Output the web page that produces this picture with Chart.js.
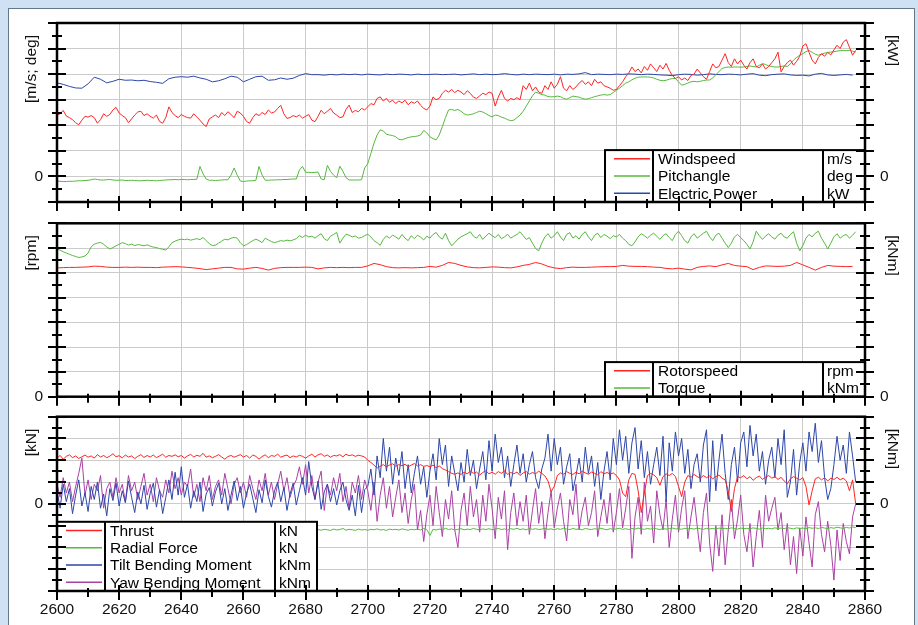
<!DOCTYPE html>
<html>
<head>
<meta charset="utf-8">
<script src="https://cdn.jsdelivr.net/npm/chart.js@4.4.1/dist/chart.umd.min.js"></script>
<style>
  html, body { margin: 0; padding: 0; background: #cfe2f3; overflow: hidden; width: 918px; height: 625px; }
  #sheet { position: absolute; left: 8px; top: 8px; width: 905px; height: 640px; background: #fff; border: 1px solid #66778a; }
  canvas { position: absolute; left: 0; }
</style>
</head>
<body>
<div id="sheet"></div>
<canvas id="c1" width="918" height="215" style="top:0px"></canvas>
<canvas id="c2" width="918" height="195" style="top:215px"></canvas>
<canvas id="c3" width="918" height="215" style="top:410px"></canvas>
<script>
// samples start at t = 2600 s; fast channels every 1 s, slow ones every 2 s
const tStart = 2600;

// --- panel 1: m/s; deg | kW ---
const windspeed = [
  2.40, 2.45, 2.58, 2.36, 2.30, 2.22, 2.10, 2.02, 2.20, 2.35,
  2.32, 2.38, 2.30, 2.08, 2.22, 2.45, 2.35, 2.42, 2.60, 2.70,
  2.48, 2.38, 2.30, 2.10, 2.25, 2.40, 2.52, 2.55, 2.38, 2.45,
  2.35, 2.28, 2.40, 2.15, 2.08, 2.30, 2.72, 2.50, 2.38, 2.30,
  2.42, 2.35, 2.30, 2.28, 2.45, 2.32, 2.20, 2.05, 1.95, 2.25,
  2.33, 2.40, 2.30, 2.50, 2.38, 2.53, 2.42, 2.30, 2.55, 2.48,
  2.35, 2.15, 2.08, 2.30, 2.45, 2.38, 2.50, 2.42, 2.60, 2.48,
  2.52, 2.66, 2.78, 2.45, 2.27, 2.30, 2.38, 2.33, 2.40, 2.28,
  2.35, 2.42, 2.20, 2.14, 2.35, 2.59, 2.45, 2.55, 2.66, 2.48,
  2.40, 2.30, 2.33, 2.62, 2.79, 2.50, 2.58, 2.53, 2.66, 2.60,
  2.72, 2.85, 2.80, 3.05, 3.11, 2.95, 3.05, 2.90, 2.98, 2.85,
  2.95, 2.88, 2.98, 2.80, 2.92, 2.86, 2.95, 2.78, 2.66, 2.60,
  2.75, 3.11, 3.00, 3.05, 3.25, 3.37, 3.30, 3.40, 3.28, 3.37,
  3.30, 3.20, 3.35, 3.25, 3.10, 3.05, 3.15, 3.25, 3.20, 3.30,
  3.25, 2.75, 3.10, 3.37, 3.05, 2.95, 3.05, 3.00, 3.08, 3.00,
  3.55, 3.40, 3.65, 3.35, 3.50, 3.30, 3.25, 3.55, 3.40, 3.70,
  3.45, 3.60, 3.90, 3.45, 3.35, 3.55, 3.40, 3.50, 3.65, 3.75,
  3.60, 3.70, 3.55, 3.80, 3.65, 3.70, 3.55, 3.50, 3.45, 3.37,
  3.40, 3.55, 3.70, 3.90, 4.05, 4.28, 4.10, 4.20, 4.05, 4.30,
  4.15, 4.40, 4.25, 4.10, 4.35, 4.20, 4.42, 4.15, 3.95, 3.83,
  3.90, 3.77, 3.85, 3.75, 3.95, 4.00, 4.20, 4.05, 3.90, 3.80,
  4.10, 4.40, 4.25, 4.30, 4.55, 4.80, 4.45, 4.30, 4.60, 4.40,
  4.55, 4.35, 4.20, 4.45, 4.60, 4.30, 4.25, 4.40, 4.20, 4.30,
  4.45, 4.60, 4.86, 4.09, 4.30, 4.45, 4.55, 4.35, 4.50, 4.70,
  5.10, 5.19, 4.85, 4.55, 4.40, 4.65, 4.80, 4.70, 4.85, 4.75,
  4.95, 5.13, 5.00, 5.25, 5.35, 5.05, 4.74, 4.93
];
const pitchangle = [
  -0.18, -0.19, -0.20, -0.20, -0.19, -0.19, -0.18, -0.17, -0.17, -0.16,
  -0.15, -0.13, -0.10, -0.12, -0.14, -0.14, -0.13, -0.12, -0.14, -0.15,
  -0.15, -0.14, -0.16, -0.16, -0.15, -0.16, -0.17, -0.17, -0.16, -0.15,
  -0.16, -0.16, -0.17, -0.16, -0.15, -0.14, -0.13, -0.13, -0.12, -0.13,
  -0.12, -0.12, -0.13, -0.12, -0.12, -0.11, 0.39, 0.10, -0.10, -0.15,
  -0.15, -0.16, -0.15, -0.14, -0.13, -0.13, 0.05, 0.33, 0.05, -0.18,
  -0.20, -0.18, -0.17, -0.17, -0.15, 0.39, 0.05, -0.15, -0.15, -0.14,
  -0.14, -0.13, -0.13, -0.12, -0.12, -0.11, -0.10, -0.10, 0.25, 0.39,
  0.16, 0.16, 0.15, 0.16, 0.17, -0.10, -0.13, 0.43, 0.20, 0.05,
  -0.05, 0.40, 0.20, -0.05, -0.14, -0.14, -0.14, -0.14, -0.13, 0.33,
  0.50, 0.90, 1.30, 1.62, 1.82, 1.78, 1.65, 1.62, 1.60, 1.55,
  1.45, 1.43, 1.48, 1.52, 1.55, 1.56, 1.58, 1.62, 1.80, 1.70,
  1.55, 1.48, 1.43, 1.62, 1.95, 2.30, 2.60, 2.62, 2.58, 2.62,
  2.55, 2.45, 2.40, 2.42, 2.45, 2.50, 2.55, 2.52, 2.45, 2.38,
  2.33, 2.40, 2.38, 2.32, 2.28, 2.22, 2.18, 2.20, 2.30, 2.40,
  2.55, 2.75, 2.95, 3.15, 3.30, 3.25, 3.20, 3.18, 3.12, 3.11,
  3.12, 3.14, 3.12, 3.05, 3.02, 3.08, 3.14, 3.12, 3.10, 3.05,
  3.02, 3.04, 3.08, 3.12, 3.15, 3.18, 3.20, 3.18, 3.20, 3.28,
  3.37, 3.45, 3.55, 3.65, 3.70, 3.78, 3.84, 3.88, 3.89, 3.89,
  3.89, 3.88, 3.85, 3.80, 3.76, 3.74, 3.76, 3.80, 3.83, 3.83,
  3.70, 3.57, 3.60, 3.65, 3.70, 3.72, 3.70, 3.72, 3.75, 3.77,
  3.77, 3.85, 3.98, 4.10, 4.22, 4.26, 4.28, 4.27, 4.28, 4.28,
  4.27, 4.28, 4.30, 4.32, 4.30, 4.28, 4.35, 4.41, 4.38, 4.32,
  4.30, 4.28, 4.28, 4.30, 4.32, 4.30, 4.40, 4.55, 4.65, 4.74,
  4.80, 4.88, 4.93, 4.85, 4.78, 4.74, 4.78, 4.82, 4.85, 4.86,
  4.88, 4.90, 4.92, 4.93, 4.92, 4.93, 4.90, 4.86
];
// 2 s samples
const electricPower = [
  3.66, 3.60, 3.52, 3.46, 3.45, 3.62, 3.88, 3.80, 3.66, 3.72,
  3.80, 3.76, 3.77, 3.74, 3.76, 3.71, 3.68, 3.64, 3.82, 3.88,
  3.90, 3.88, 3.92, 3.85, 3.80, 3.70, 3.74, 3.82, 3.92, 3.88,
  3.70, 3.80, 3.90, 3.92, 3.76, 3.78, 3.85, 3.80, 3.84, 3.95,
  4.02, 3.98, 3.98, 3.96, 3.99, 3.97, 4.00, 3.98, 4.00, 3.97,
  4.00, 3.98, 3.97, 4.00, 3.98, 4.00, 3.99, 3.97, 4.00, 3.98,
  3.99, 4.00, 3.98, 3.99, 4.00, 3.97, 3.99, 4.01, 3.98, 4.00,
  3.98, 3.99, 4.02, 3.99, 3.97, 4.00, 3.98, 4.00, 3.99, 3.98,
  4.00, 3.97, 4.00, 3.99, 4.01, 4.06, 3.98, 4.00, 3.99, 3.98,
  4.00, 3.99, 4.01, 4.00, 3.98, 4.00, 3.99, 3.97, 3.96, 3.94,
  3.98, 4.00, 3.99, 3.96, 3.98, 4.01, 3.99, 3.98, 4.00, 3.99,
  3.97, 4.00, 4.02, 3.96, 3.94, 3.98, 4.00, 4.01, 3.97, 3.95,
  3.96, 3.93, 4.00, 4.03, 3.97, 3.95, 3.97, 3.99, 3.96
];

// --- panel 2: rpm | kNm ---
// 2 s samples
const rotorspeed = [
  5.20, 5.21, 5.22, 5.22, 5.23, 5.24, 5.27, 5.26, 5.23, 5.22,
  5.22, 5.23, 5.22, 5.23, 5.22, 5.22, 5.21, 5.23, 5.24, 5.25,
  5.24, 5.22, 5.20, 5.17, 5.13, 5.16, 5.19, 5.22, 5.22, 5.16,
  5.15, 5.19, 5.22, 5.18, 5.11, 5.18, 5.21, 5.22, 5.22, 5.22,
  5.23, 5.22, 5.16, 5.20, 5.22, 5.21, 5.22, 5.21, 5.22, 5.22,
  5.28, 5.38, 5.33, 5.25, 5.21, 5.20, 5.21, 5.20, 5.21, 5.22,
  5.26, 5.23, 5.30, 5.42, 5.38, 5.30, 5.24, 5.21, 5.20, 5.22,
  5.24, 5.23, 5.21, 5.20, 5.24, 5.30, 5.34, 5.42, 5.36, 5.26,
  5.20, 5.17, 5.21, 5.23, 5.22, 5.22, 5.23, 5.24, 5.25, 5.25,
  5.26, 5.30, 5.27, 5.26, 5.26, 5.25, 5.23, 5.22, 5.18, 5.16,
  5.19, 5.15, 5.12, 5.22, 5.26, 5.28, 5.25, 5.32, 5.38, 5.30,
  5.27, 5.25, 5.13, 5.22, 5.28, 5.27, 5.26, 5.27, 5.30, 5.42,
  5.32, 5.22, 5.11, 5.22, 5.30, 5.27, 5.26, 5.25, 5.26
];
const torque = [
  5.96, 5.92, 5.85, 5.80, 5.75, 5.70, 5.66, 5.62, 5.64, 5.68,
  5.80, 6.05, 6.16, 6.20, 6.23, 6.15, 6.05, 5.96, 6.02, 6.09,
  6.15, 6.22, 6.18, 6.12, 6.16, 6.10, 6.14, 6.12, 6.09, 6.13,
  6.08, 6.04, 6.02, 5.98, 5.95, 5.92, 6.05, 6.22, 6.28, 6.33,
  6.36, 6.34, 6.36, 6.32, 6.35, 6.38, 6.34, 6.43, 6.30, 6.18,
  6.10, 6.12, 6.20, 6.28, 6.36, 6.33, 6.40, 6.43, 6.40, 6.22,
  6.09, 6.14, 6.22, 6.30, 6.36, 6.30, 6.22, 6.40, 6.33, 6.26,
  6.22, 6.26, 6.30, 6.28, 6.32, 6.29, 6.33, 6.38, 6.50, 6.43,
  6.52, 6.45, 6.48, 6.40, 6.50, 6.58, 6.38, 6.30, 6.48, 6.55,
  6.63, 6.20, 6.40, 6.56, 6.52, 6.45, 6.49, 6.40, 6.43, 6.50,
  6.56, 6.45, 6.30, 6.22, 6.11, 6.35, 6.49, 6.40, 6.52, 6.45,
  6.36, 6.55, 6.40, 6.30, 6.50, 6.38, 6.52, 6.44, 6.33, 6.48,
  6.40, 6.55, 6.63, 6.45, 6.36, 6.60, 6.30, 6.09, 6.22, 6.36,
  6.45, 6.52, 6.58, 6.66, 6.48, 6.40, 6.55, 6.35, 6.48, 6.60,
  6.50, 6.42, 6.55, 6.38, 6.45, 6.56, 6.40, 6.48, 6.55, 6.66,
  6.50, 6.35, 6.42, 6.20, 5.98, 5.89, 6.20, 6.45, 6.58, 6.40,
  6.50, 6.66, 6.45, 6.30, 6.55, 6.62, 6.40, 6.50, 6.36, 6.55,
  6.66, 6.45, 6.30, 6.52, 6.60, 6.42, 6.55, 6.48, 6.38, 6.50,
  6.45, 6.55, 6.40, 6.30, 6.15, 6.09, 6.25, 6.45, 6.58, 6.50,
  6.40, 6.52, 6.60, 6.48, 6.35, 6.50, 6.58, 6.42, 6.30, 6.55,
  6.68, 6.50, 6.30, 6.20, 6.45, 6.58, 6.40, 6.50, 6.60, 6.68,
  6.45, 6.30, 6.52, 6.60, 6.40, 6.20, 6.02, 6.20, 6.45, 6.55,
  6.42, 6.30, 6.15, 5.96, 6.25, 6.68, 6.50, 6.35, 6.48, 6.58,
  6.45, 6.36, 6.52, 6.60, 6.45, 6.40, 6.55, 6.66, 6.20, 5.89,
  6.10, 6.40, 6.55, 6.45, 6.60, 6.68, 6.40, 6.20, 5.96, 6.20,
  6.45, 6.58, 6.40, 6.50, 6.55, 6.40, 6.52, 6.66
];

// --- panel 3: kN | kNm ---
const thrust = [
  2.10, 2.22, 2.05, 2.18, 2.25, 2.12, 2.20, 2.08, 2.16, 2.24,
  2.14, 2.20, 2.10, 2.26, 2.15, 2.22, 2.12, 2.19, 2.30, 2.16,
  2.21, 2.11, 2.24, 2.15, 2.20, 2.08, 2.18, 2.26, 2.13, 2.22,
  2.15, 2.24, 2.12, 2.20, 2.28, 2.14, 2.22, 2.18, 2.25, 2.16,
  2.22, 2.10, 2.20, 2.27, 2.15, 2.23, 2.18, 2.32, 2.14, 2.20,
  2.12, 2.18, 2.26, 2.15, 2.05, 2.17, 2.22, 2.14, 2.20, 2.26,
  2.15, 2.22, 2.10, 2.24, 2.18, 2.05, 2.17, 2.25, 2.12, 2.22,
  2.18, 2.28, 2.14, 2.20, 2.24, 2.12, 2.20, 2.15, 2.23, 2.18,
  2.10, 2.20, 2.28, 2.15, 2.25, 2.30, 2.18, 2.24, 2.14, 2.22,
  2.20, 2.26, 2.16, 2.28, 2.21, 2.25, 2.18, 2.23, 2.20, 2.15,
  2.00, 1.90, 1.78, 1.64, 1.72, 1.80, 1.70, 1.78, 1.84, 1.72,
  1.80, 1.75, 1.82, 1.70, 1.78, 1.85, 1.74, 1.80, 1.72, 1.76,
  1.70, 1.78, 1.66, 1.74, 1.62, 1.55, 1.48, 1.40, 1.36, 1.42,
  1.35, 1.45, 1.38, 1.50, 1.40, 1.46, 1.32, 1.44, 1.52, 1.38,
  1.45, 1.36, 1.48, 1.40, 1.52, 1.35, 1.44, 1.38, 1.46, 1.30,
  1.42, 1.48, 1.36, 1.44, 1.38, 1.50, 1.40, 1.28, 1.05, 0.56,
  0.80, 1.30, 1.42, 1.36, 1.48, 1.40, 1.35, 1.45, 1.38, 1.50,
  1.42, 1.36, 1.46, 1.40, 1.33, 1.48, 1.38, 1.44, 1.36, 1.42,
  1.30, 1.10, 0.50, 0.33, 1.10, 1.40, 1.35, 0.60, -0.40, 0.50,
  1.30, 1.40, 1.33, 1.20, 0.85, 1.25, 1.38, 1.30, 1.40, 1.25,
  0.80, 0.33, 1.00, 1.30, 1.22, 1.35, 1.25, 1.18, 1.30, 1.20,
  1.28, 1.15, 1.25, 1.32, 1.18, 1.10, 0.60, -0.35, 0.70, 1.25,
  1.20, 1.30, 1.15, 1.25, 1.08, 1.20, 1.28, 1.12, 1.22, 1.30,
  1.18, 1.25, 1.12, 1.22, 1.05, 0.92, 1.15, 1.25, 1.18, 1.10,
  1.20, 0.80, -0.05, 0.60, 1.15, 1.22, 1.10, 1.20, 1.05, 1.18,
  1.12, 1.22, 1.10, 1.18, 1.05, 0.60, 1.10, 0.00
];
const radialForce = [
  -1.22, -1.18, -1.21, -1.16, -1.20, -1.23, -1.17, -1.19, -1.22, -1.18,
  -1.20, -1.24, -1.17, -1.21, -1.19, -1.16, -1.22, -1.18, -1.20, -1.23,
  -1.17, -1.21, -1.19, -1.22, -1.16, -1.20, -1.18, -1.23, -1.19, -1.17,
  -1.21, -1.18, -1.22, -1.16, -1.20, -1.19, -1.23, -1.17, -1.21, -1.18,
  -1.20, -1.16, -1.22, -1.19, -1.17, -1.21, -1.18, -1.23, -1.16, -1.20,
  -1.19, -1.22, -1.17, -1.20, -1.18, -1.21, -1.16, -1.22, -1.19, -1.17,
  -1.21, -1.18, -1.20, -1.23, -1.17, -1.19, -1.22, -1.16, -1.20, -1.18,
  -1.22, -1.17, -1.19, -1.21, -1.16, -1.20, -1.18, -1.23, -1.17, -1.21,
  -1.19, -1.22, -1.16, -1.20, -1.18, -1.21, -1.17, -1.19, -1.22, -1.16,
  -1.20, -1.18, -1.13, -1.21, -1.17, -1.19, -1.22, -1.16, -1.20, -1.18,
  -1.21, -1.17, -1.19, -1.15, -1.20, -1.18, -1.22, -1.16, -1.19, -1.17,
  -1.20, -1.15, -1.18, -1.21, -1.17, -1.19, -1.16, -1.20, -1.13, -1.18,
  -1.45, -1.17, -1.20, -1.16, -1.19, -1.12, -1.18, -1.15, -1.20, -1.17,
  -1.14, -1.19, -1.16, -1.18, -1.13, -1.17, -1.20, -1.15, -1.18, -1.14,
  -1.19, -1.16, -1.13, -1.18, -1.15, -1.20, -1.14, -1.17, -1.12, -1.18,
  -1.15, -1.19, -1.13, -1.17, -1.14, -1.18, -1.16, -1.12, -1.17, -1.15,
  -1.19, -1.14, -1.17, -1.12, -1.16, -1.18, -1.13, -1.17, -1.15, -1.19,
  -1.13, -1.16, -1.18, -1.14, -1.17, -1.12, -1.16, -1.19, -1.14, -1.17,
  -1.15, -1.12, -1.17, -1.14, -1.18, -1.13, -1.16, -1.11, -1.15, -1.17,
  -1.13, -1.16, -1.12, -1.15, -1.18, -1.13, -1.16, -1.14, -1.11, -1.15,
  -1.14, -1.17, -1.12, -1.15, -1.13, -1.16, -1.11, -1.14, -1.17, -1.12,
  -1.15, -1.13, -1.16, -1.11, -1.14, -1.12, -1.15, -1.10, -1.13, -1.16,
  -1.11, -1.14, -1.12, -1.15, -1.10, -1.13, -1.16, -1.11, -1.14, -1.12,
  -1.15, -1.10, -1.13, -1.11, -1.14, -1.09, -1.12, -1.15, -1.10, -1.13,
  -1.11, -1.14, -1.09, -1.12, -1.10, -1.13, -1.08, -1.11, -1.14, -1.09,
  -1.12, -1.07, -1.10, -1.13, -1.08, -1.11, -1.06, -1.09
];
const tiltMoment = [
  0.60, -0.20, 0.90, 0.10, 0.70, -0.45, 0.40, 1.10, -0.10, 0.50,
  -0.35, 0.80, 0.20, 1.00, -0.20, 0.45, -0.55, 0.70, 0.15, 0.95,
  -0.10, 0.60, 0.05, 1.05, 0.30, -0.40, 0.55, 0.00, 0.85, -0.25,
  0.50, 0.95, -0.15, 0.65, -0.45, 0.30, 1.10, 0.20, 1.45, 0.40,
  1.70, 0.30, 0.90, -0.20, 0.60, 0.10, 1.00, -0.35, 0.45, 0.75,
  -0.10, 0.55, 0.95, 0.00, 0.70, -0.30, 0.40, 1.05, 0.15, 0.80,
  -0.20, 0.50, 0.90, 0.25, -0.40, 0.65, 0.05, 1.10, 0.35, -0.15,
  0.60, 1.00, 0.10, 0.75, -0.30, 0.45, 0.95, -0.05, 0.60, 1.20,
  0.40, 1.94, 0.80, 0.20, 1.05, -0.25, 0.55, 0.90, 0.10, 0.70,
  -0.05, 0.60, 1.00, 0.20, -0.30, 0.40, -0.55, 0.85, -0.40, 0.65,
  0.80, 1.60, 0.40, 2.20, 1.20, 3.00, 1.50, 2.60, 0.90, 2.10,
  1.30, 2.40, 0.70, 1.80, 0.50, 1.40, 2.20, 0.90, 1.70, 0.30,
  1.50, 2.30, 1.10, 3.00, 1.80, 2.70, 0.80, 2.20, 1.40, 0.60,
  1.90, 1.00, 2.50, 1.30, 2.00, 0.70, 1.60, 2.40, 1.10, 2.90,
  1.50, 3.20, 1.90, 2.60, 1.20, 2.20, 0.80, 1.80, 2.70, 1.40,
  2.30, 1.00, 1.80, 2.40, 1.20, 0.70, 1.60, 2.10, 3.20, 1.50,
  3.00, 1.80, 2.60, 0.90, 1.70, 2.30, 0.60, 1.30, 2.10, 1.00,
  2.60, 1.40, 2.20, 0.80, 1.90, 0.20, 1.50, 2.40, 1.10, 3.00,
  1.80, 3.40, 2.00, 3.10, 1.40, 2.80, 3.50, 1.60, 2.90, 1.20,
  2.40, 0.90, 1.80, 2.60, 1.30, 3.10, 0.10, 2.80, 1.50, 3.30,
  2.20, 3.00, 1.40, 2.50, 0.70, 1.80, 2.30, 1.00, 2.70, 3.40,
  0.10, 2.90, 0.60, 2.00, 3.20, 1.40, 0.20, 1.80, 2.60, 1.00,
  2.80, 3.30, 1.70, 3.60, 2.20, 3.20, 1.50, 2.40, 0.90, 2.00,
  2.60, 1.20, 3.00, 1.80, 3.40, 0.30, 1.00, 2.50, 0.40, 1.90,
  2.80, 1.50, 3.30, 2.40, 3.70, 1.90, 2.90, 1.20, 0.20, 0.70,
  1.80, 3.10, 2.00, 2.70, 1.40, 3.30, 2.20, 1.00
];
const yawMoment = [
  0.90, 0.30, 1.20, 0.50, 1.00, 0.10, 0.80, 1.40, 2.10, 0.40,
  1.10, 0.20, 0.90, 0.60, 1.30, -0.20, 0.70, 1.00, 0.30, 1.20,
  0.50, 0.90, 0.10, 1.30, 0.60, 1.00, 0.20, 0.80, 1.40, 0.40,
  0.90, 0.10, 1.20, 0.60, 0.30, 1.10, 0.50, 1.50, 0.70, 1.20,
  0.40, 1.00, 0.80, 1.60, 0.30, 0.90, 0.10, 1.20, 0.60, 1.30,
  0.20, 0.80, 1.10, 0.40, 1.40, 0.70, 0.00, 0.90, 1.20, 0.50,
  1.00, 0.30, 1.30, 0.70, 0.20, 1.10, 0.60, 1.40, 0.40, 1.00,
  0.20, 0.90, 1.50, 0.60, 1.20, 0.30, 0.80, 1.10, 1.70, 0.90,
  1.80, 0.50, 1.30, 0.20, 1.00, 1.50, -0.30, 0.90, 0.40, 1.20,
  0.60, 1.40, 0.10, 0.80, -0.20, 1.00, 0.50, 1.30, 0.20, 1.10,
  0.60, -0.30, 1.00, -0.80, 0.40, 1.20, -0.20, 0.80, -0.60, 0.30,
  1.10, -0.40, 0.50, -0.90, 0.20, 0.90, -1.20, -0.30, -1.73, -0.50,
  0.40, -1.00, 0.80, -0.40, -1.50, 0.20, -0.70, 0.60, -1.20, -2.00,
  -0.30, 0.50, -1.00, 0.80, -0.60, 0.20, -1.30, 0.40, -0.80, 0.90,
  -0.20, -1.60, 0.30, -0.70, 0.60, -2.10, -0.40, 0.50, -1.00, 0.10,
  -0.80, 0.40, -1.40, -0.30, 0.70, -0.90, 0.10, -1.60, -0.40, 0.60,
  -1.10, -0.20, 0.50, -0.80, -1.70, 0.20, -0.50, 0.90, -1.20, -0.30,
  0.30, -1.00, -0.40, 0.60, -1.50, -0.60, 0.20, -0.90, 0.50, -1.30,
  -0.40, 0.70, -1.10, -0.20, 0.80, -2.50, -0.60, 0.30, -1.40, 1.00,
  -0.80, -0.10, -1.80, 0.60, -0.50, -1.20, 0.20, -2.00, -0.70, 0.40,
  -1.30, -0.20, 0.60, -1.60, -0.60, 0.30, -1.00, -2.20, -0.40, 0.50,
  -1.80, -3.10, -1.00, -2.40, -0.50, -2.80, -1.20, 0.20, -1.60, -0.70,
  0.40, -1.40, -2.20, -0.90, -2.90, -1.50, -0.30, -2.00, 0.40, -0.80,
  -0.20, 0.30, -1.20, -0.40, -2.10, -0.90, -2.80, -1.50, -3.20, -1.10,
  -2.40, -0.60, -1.80, -2.90, -0.50, 0.10, -1.40, -2.20, -0.80, -1.90,
  -3.50, -1.20, -2.60, -0.90, -1.73, -2.30, -0.60, 0.00
];

const RED = 'rgb(255,35,35)';
const GREEN = 'rgb(85,185,60)';
const BLUE = 'rgb(45,70,170)';
const PURPLE = 'rgb(170,65,165)';
const FONT = '15.5px "Liberation Sans", Arial, sans-serif';

function series(values, step) {
  return values.map((v, i) => ({ x: tStart + i * step, y: v }));
}

function line(label, unit, values, step, color) {
  return { label: label, unit: unit, data: series(values, step), borderColor: color, backgroundColor: color };
}

// axes with crossing ticks, the boxed legend and the titles
const panelFrame = {
  id: 'panelFrame',
  afterDraw(chart, args, o) {
    const ctx = chart.ctx, a = chart.chartArea;
    const xs = chart.scales.x, ys = chart.scales.y;
    ctx.save();

    // legend table
    const ds = chart.data.datasets;
    const rowH = 17.3, w = 260, h = ds.length * rowH;
    const lx = o.legendLeft ? a.left : a.right - w;
    const ly = a.bottom - h;
    ctx.fillStyle = '#fff';
    ctx.fillRect(lx, ly, w, h);
    ctx.font = FONT;
    ctx.textBaseline = 'middle';
    ctx.textAlign = 'left';
    ds.forEach((d, i) => {
      const cy = ly + (i + 0.5) * rowH;
      ctx.strokeStyle = d.borderColor;
      ctx.lineWidth = 1.5;
      ctx.beginPath();
      ctx.moveTo(lx + 9, cy); ctx.lineTo(lx + 45, cy);
      ctx.stroke();
      ctx.fillStyle = '#000';
      ctx.fillText(d.label, lx + 53, cy + 1);
      ctx.fillText(d.unit, lx + 222, cy + 1);
    });
    ctx.strokeStyle = '#000';
    ctx.lineWidth = 2;
    ctx.strokeRect(lx, ly, w, h);
    ctx.beginPath();
    ctx.moveTo(lx + 48, ly); ctx.lineTo(lx + 48, ly + h);
    ctx.moveTo(lx + 218, ly); ctx.lineTo(lx + 218, ly + h);
    ctx.stroke();

    // ticks
    ctx.beginPath();
    for (let v = ys.min; v <= ys.max + 1e-6; v += 0.5) {
      const y = Math.round(ys.getPixelForValue(v));
      const len = Number.isInteger(v) ? 9 : 5;
      ctx.moveTo(a.left - len, y); ctx.lineTo(a.left + len, y);
      ctx.moveTo(a.right - len, y); ctx.lineTo(a.right + len, y);
    }
    for (let t = xs.min; t <= xs.max; t += 10) {
      const x = Math.round(xs.getPixelForValue(t));
      const major = t % 20 === 0;
      ctx.moveTo(x, a.bottom - (major ? 6 : 3));
      ctx.lineTo(x, a.bottom + (major ? 9 : 6));
    }
    ctx.stroke();

    // frame
    ctx.lineWidth = 2.5;
    ctx.strokeRect(a.left, a.top, a.right - a.left, a.bottom - a.top);

    // labels
    ctx.fillStyle = '#111';
    ctx.font = FONT;
    ctx.textBaseline = 'middle';
    const y0 = ys.getPixelForValue(0);
    ctx.textAlign = 'right';
    ctx.fillText('0', a.left - 14, y0);
    ctx.textAlign = 'left';
    ctx.fillText('0', a.right + 15, y0);
    if (o.xLabels) {
      ctx.textAlign = 'center';
      for (let t = xs.min; t <= xs.max; t += 20) {
        ctx.fillText(String(t), xs.getPixelForValue(t), a.bottom + 19);
      }
    }

    // axis titles, rotated, hung from the top of the panel
    ctx.save();
    ctx.translate(32, a.top + 12);
    ctx.rotate(-Math.PI / 2);
    ctx.textAlign = 'right';
    ctx.fillText(o.leftTitle, 0, 0);
    ctx.restore();
    ctx.save();
    ctx.translate(892, a.top + 12);
    ctx.rotate(Math.PI / 2);
    ctx.textAlign = 'left';
    ctx.fillText(o.rightTitle, 0, 0);
    ctx.restore();

    ctx.restore();
  }
};

function makeChart(id, datasets, yMin, yMax, pad, frameOpts) {
  return new Chart(document.getElementById(id), {
    type: 'line',
    data: { datasets: datasets },
    options: {
      responsive: false,
      animation: false,
      events: [],
      layout: { padding: pad },
      elements: { point: { radius: 0 }, line: { borderWidth: 1, tension: 0 } },
      plugins: { legend: { display: false }, tooltip: { enabled: false }, panelFrame: frameOpts },
      scales: {
        x: {
          type: 'linear', min: 2600, max: 2860,
          ticks: { display: false, stepSize: 20 },
          grid: { color: '#cbcbcb', drawTicks: false },
          border: { display: false },
          afterFit: s => { s.height = 0; }
        },
        y: {
          min: yMin, max: yMax,
          ticks: { display: false, stepSize: 1 },
          grid: { color: '#cbcbcb', drawTicks: false },
          border: { display: false },
          afterFit: s => { s.width = 0; }
        }
      }
    },
    plugins: [panelFrame]
  });
}

makeChart('c1', [
  line('Windspeed', 'm/s', windspeed, 1, RED),
  line('Pitchangle', 'deg', pitchangle, 1, GREEN),
  line('Electric Power', 'kW', electricPower, 2, BLUE)
], -1, 6, { left: 57, right: 53, top: 23, bottom: 13 },
  { leftTitle: '[m/s; deg]', rightTitle: '[kW]', legendLeft: false, xLabels: false });

makeChart('c2', [
  line('Rotorspeed', 'rpm', rotorspeed, 2, RED),
  line('Torque', 'kNm', torque, 1, GREEN)
], 0, 7, { left: 57, right: 53, top: 8.3, bottom: 13.3 },
  { leftTitle: '[rpm]', rightTitle: '[kNm]', legendLeft: false, xLabels: false });

makeChart('c3', [
  line('Thrust', 'kN', thrust, 1, RED),
  line('Radial Force', 'kN', radialForce, 1, GREEN),
  line('Tilt Bending Moment', 'kNm', tiltMoment, 1, BLUE),
  line('Yaw Bending Moment', 'kNm', yawMoment, 1, PURPLE)
], -4, 4, { left: 57, right: 53, top: 6.7, bottom: 34 },
  { leftTitle: '[kN]', rightTitle: '[kNm]', legendLeft: true, xLabels: true });
</script>
</body>
</html>
